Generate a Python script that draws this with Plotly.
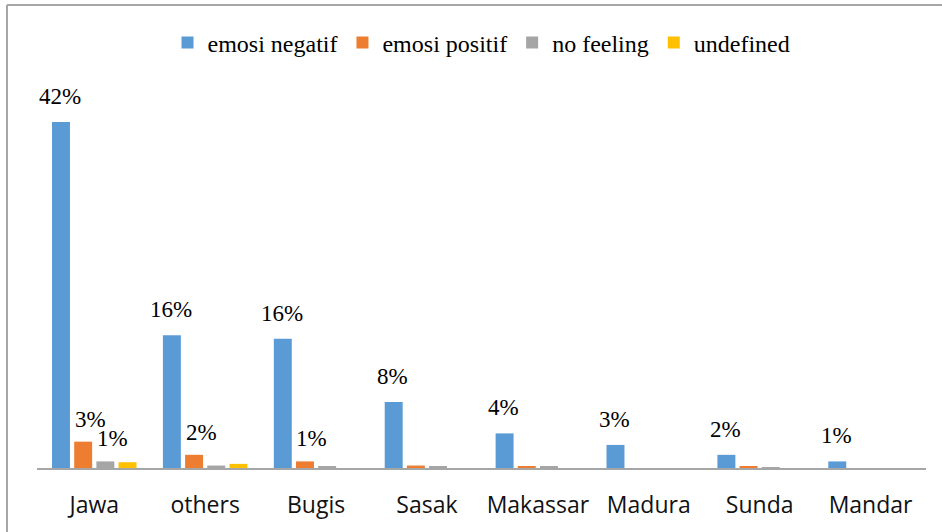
import plotly.graph_objects as go

# Share of responses per ethnic group (percent)
groups = ["Jawa", "others", "Bugis", "Sasak", "Makassar", "Madura", "Sunda", "Mandar"]
emosi_negatif = [42.0, 16.1, 15.7, 8.0, 4.2, 2.8, 1.6, 0.8]
emosi_positif = [3.2, 1.6, 0.8, 0.3, 0.2, None, 0.15, None]
no_feeling = [0.8, 0.3, 0.15, 0.2, 0.2, None, 0.1, None]
undefined = [0.7, 0.5, None, None, None, None, None, None]

# which bars carry a value label
label_negatif = [True] * 8
label_positif = [True, True, True, False, False, False, False, False]
label_nofeel = [True, False, False, False, False, False, False, False]
label_undef = [False] * 8

series = [
    ("emosi negatif", emosi_negatif, "#5B9BD5", label_negatif),
    ("emosi positif", emosi_positif, "#ED7D31", label_positif),
    ("no feeling", no_feeling, "#A5A5A5", label_nofeel),
    ("undefined", undefined, "#FFC000", label_undef),
]

BARGAP = 0.2
BARGROUPGAP = 0.19
n_series = len(series)
slot = (1 - BARGAP) / n_series

fig = go.Figure()
annotations = []
for k, (name, vals, color, show) in enumerate(series):
    fig.add_trace(go.Bar(
        name=name, x=groups, y=vals,
        marker=dict(color=color, line=dict(width=0)),
    ))
    offset = (k - (n_series - 1) / 2) * slot
    for i, (v, s) in enumerate(zip(vals, show)):
        if not s or v is None:
            continue
        annotations.append(dict(
            x=i + offset, y=v, xref="x", yref="y",
            text=f"{v:.0f}%", showarrow=False,
            xanchor="center", yanchor="bottom",
            xshift=-1 if k == 0 else 7,
            yshift=11 if k == 0 else 8,
            font=dict(family="Liberation Serif", size=23, color="#000000"),
        ))

# chart-area outline (top and left edges)
plot_w = 942 - 37 - 16
plot_h = 532 - 80 - 64
bx = -(37 - 7) / plot_w
by = 1 + (80 - 5) / plot_h
shapes = [
    dict(type="line", xref="paper", yref="paper", x0=bx, x1=1.2, y0=by, y1=by,
         line=dict(color="#A6A6A6", width=2)),
    dict(type="line", xref="paper", yref="paper", x0=bx, x1=bx, y0=-0.3, y1=by,
         line=dict(color="#A6A6A6", width=2)),
]

fig.update_layout(
    width=942, height=532,
    margin=dict(l=37, r=16, t=80, b=64, pad=0),
    paper_bgcolor="white", plot_bgcolor="white",
    barmode="group", bargap=BARGAP, bargroupgap=BARGROUPGAP,
    showlegend=True,
    legend=dict(
        orientation="h", x=0.5, xanchor="center", y=1 + (80 - 43) / plot_h, yanchor="middle",
        font=dict(family="Liberation Serif", size=24, color="#000000"),
        itemwidth=30, tracegroupgap=0, bgcolor="rgba(0,0,0,0)",
    ),
    xaxis=dict(
        type="category", showgrid=False, zeroline=False,
        showline=True, linecolor="#A6A6A6", linewidth=1.5,
        ticks="", ticklabelstandoff=16,
        tickfont=dict(family="Open Sans", size=23, color="#111111"),
    ),
    yaxis=dict(range=[0, 47.1], visible=False, showgrid=False, zeroline=False),
    annotations=annotations,
    shapes=shapes,
)

fig.write_html("out.html")
